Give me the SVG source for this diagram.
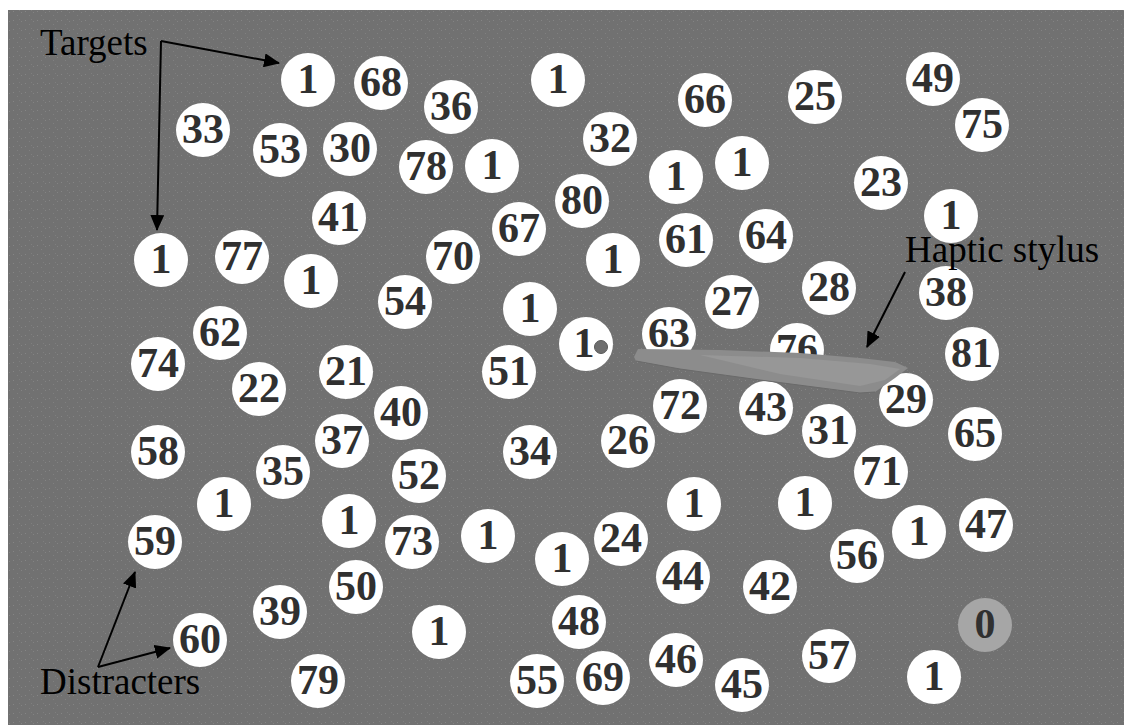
<svg xmlns="http://www.w3.org/2000/svg" width="1124" height="725" viewBox="0 0 1124 725">
<style>
.bg{fill:#717171}
.c{fill:#ffffff}
.g{fill:#a6a6a6}
.n{font-family:"Liberation Serif","Times New Roman",serif;font-weight:bold;font-size:42px;fill:#303030;text-anchor:middle}
.lbl{font-family:"Liberation Serif","Times New Roman",serif;font-size:37px;fill:#000000}
.arr{stroke:#000000;stroke-width:2;fill:none;marker-end:url(#ah)}
</style>
<defs>
<marker id="ah" markerUnits="userSpaceOnUse" markerWidth="16" markerHeight="14" refX="15" refY="7" orient="auto">
<path d="M0,0 L16,7 L0,14 Z" fill="#000000"/>
</marker>
<pattern id="noise" width="12" height="9" patternUnits="userSpaceOnUse">
<rect width="12" height="9" fill="#717171"/>
<rect x="1" y="2" width="1" height="1" fill="#858585"/>
<rect x="5" y="6" width="1" height="1" fill="#808080"/>
<rect x="9" y="3" width="1" height="1" fill="#838383"/>
<rect x="7" y="1" width="1" height="1" fill="#7e7e7e"/>
</pattern>
</defs>
<rect x="0" y="0" width="1124" height="725" fill="#ffffff"/>
<rect x="8" y="10" width="1116" height="715" fill="url(#noise)"/>

<g id="t1"><circle class="c" cx="308" cy="80" r="27"/><text class="n" x="308" y="93">1</text></g>
<g id="d68"><circle class="c" cx="381" cy="83" r="27"/><text class="n" x="381" y="96">68</text></g>
<g id="d36"><circle class="c" cx="451" cy="107" r="27"/><text class="n" x="451" y="120">36</text></g>
<g id="t2"><circle class="c" cx="558" cy="80" r="27"/><text class="n" x="558" y="93">1</text></g>
<g id="d66"><circle class="c" cx="705" cy="100" r="27"/><text class="n" x="705" y="113">66</text></g>
<g id="d25"><circle class="c" cx="815" cy="97" r="27"/><text class="n" x="815" y="110">25</text></g>
<g id="d49"><circle class="c" cx="933" cy="79" r="27"/><text class="n" x="933" y="92">49</text></g>
<g id="d75"><circle class="c" cx="982" cy="125" r="27"/><text class="n" x="982" y="138">75</text></g>
<g id="d33"><circle class="c" cx="203" cy="130" r="27"/><text class="n" x="203" y="143">33</text></g>
<g id="d53"><circle class="c" cx="280" cy="150" r="27"/><text class="n" x="280" y="163">53</text></g>
<g id="d30"><circle class="c" cx="350" cy="149" r="27"/><text class="n" x="350" y="162">30</text></g>
<g id="d78"><circle class="c" cx="426" cy="167" r="27"/><text class="n" x="426" y="180">78</text></g>
<g id="t3"><circle class="c" cx="492" cy="166" r="27"/><text class="n" x="492" y="179">1</text></g>
<g id="d32"><circle class="c" cx="610" cy="139" r="27"/><text class="n" x="610" y="152">32</text></g>
<g id="t4"><circle class="c" cx="676" cy="177" r="27"/><text class="n" x="676" y="190">1</text></g>
<g id="t5"><circle class="c" cx="742" cy="163" r="27"/><text class="n" x="742" y="176">1</text></g>
<g id="d23"><circle class="c" cx="881" cy="183" r="27"/><text class="n" x="881" y="196">23</text></g>
<g id="t6"><circle class="c" cx="951" cy="216" r="27"/><text class="n" x="951" y="229">1</text></g>
<g id="d41"><circle class="c" cx="339" cy="218" r="27"/><text class="n" x="339" y="231">41</text></g>
<g id="d80"><circle class="c" cx="582" cy="201" r="27"/><text class="n" x="582" y="214">80</text></g>
<g id="d67"><circle class="c" cx="519" cy="229" r="27"/><text class="n" x="519" y="242">67</text></g>
<g id="d61"><circle class="c" cx="686" cy="240" r="27"/><text class="n" x="686" y="253">61</text></g>
<g id="d64"><circle class="c" cx="766" cy="236" r="27"/><text class="n" x="766" y="249">64</text></g>
<g id="t7"><circle class="c" cx="161" cy="260" r="27"/><text class="n" x="161" y="273">1</text></g>
<g id="d77"><circle class="c" cx="242" cy="257" r="27"/><text class="n" x="242" y="270">77</text></g>
<g id="t8"><circle class="c" cx="311" cy="281" r="27"/><text class="n" x="311" y="294">1</text></g>
<g id="d70"><circle class="c" cx="453" cy="257" r="27"/><text class="n" x="453" y="270">70</text></g>
<g id="t9"><circle class="c" cx="613" cy="260" r="27"/><text class="n" x="613" y="273">1</text></g>
<g id="d54"><circle class="c" cx="405" cy="302" r="27"/><text class="n" x="405" y="315">54</text></g>
<g id="d27"><circle class="c" cx="732" cy="302" r="27"/><text class="n" x="732" y="315">27</text></g>
<g id="d28"><circle class="c" cx="829" cy="288" r="27"/><text class="n" x="829" y="301">28</text></g>
<g id="d38"><circle class="c" cx="946" cy="293" r="27"/><text class="n" x="946" y="306">38</text></g>
<g id="t10"><circle class="c" cx="530" cy="309" r="27"/><text class="n" x="530" y="322">1</text></g>
<g id="d62"><circle class="c" cx="220" cy="333" r="27"/><text class="n" x="220" y="346">62</text></g>
<g id="t11"><circle class="c" cx="586" cy="344" r="27"/><text class="n" x="584" y="357">1</text><circle cx="601" cy="347" r="6.5" fill="#6e6e6e" stroke="#5a5a5a" stroke-width="1"/></g>
<g id="d63"><circle class="c" cx="669" cy="334" r="27"/><text class="n" x="669" y="347">63</text></g>
<g id="d76"><circle class="c" cx="797" cy="350" r="27"/><text class="n" x="797" y="363">76</text></g>
<g id="d81"><circle class="c" cx="972" cy="354" r="27"/><text class="n" x="972" y="367">81</text></g>
<g id="d74"><circle class="c" cx="158" cy="364" r="27"/><text class="n" x="158" y="377">74</text></g>
<g id="d22"><circle class="c" cx="259" cy="389" r="27"/><text class="n" x="259" y="402">22</text></g>
<g id="d21"><circle class="c" cx="346" cy="372" r="27"/><text class="n" x="346" y="385">21</text></g>
<g id="d51"><circle class="c" cx="509" cy="372" r="27"/><text class="n" x="509" y="385">51</text></g>
<g id="d72"><circle class="c" cx="680" cy="406" r="27"/><text class="n" x="680" y="419">72</text></g>
<g id="d43"><circle class="c" cx="766" cy="408" r="27"/><text class="n" x="766" y="421">43</text></g>
<g id="d29"><circle class="c" cx="906" cy="400" r="27"/><text class="n" x="906" y="413">29</text></g>
<g id="d40"><circle class="c" cx="401" cy="413" r="27"/><text class="n" x="401" y="426">40</text></g>
<g id="d31"><circle class="c" cx="829" cy="431" r="27"/><text class="n" x="829" y="444">31</text></g>
<g id="d65"><circle class="c" cx="975" cy="434" r="27"/><text class="n" x="975" y="447">65</text></g>
<g id="d37"><circle class="c" cx="342" cy="441" r="27"/><text class="n" x="342" y="454">37</text></g>
<g id="d34"><circle class="c" cx="530" cy="452" r="27"/><text class="n" x="530" y="465">34</text></g>
<g id="d26"><circle class="c" cx="628" cy="441" r="27"/><text class="n" x="628" y="454">26</text></g>
<g id="d71"><circle class="c" cx="881" cy="472" r="27"/><text class="n" x="881" y="485">71</text></g>
<g id="d58"><circle class="c" cx="158" cy="452" r="27"/><text class="n" x="158" y="465">58</text></g>
<g id="d35"><circle class="c" cx="283" cy="472" r="27"/><text class="n" x="283" y="485">35</text></g>
<g id="d52"><circle class="c" cx="419" cy="476" r="27"/><text class="n" x="419" y="489">52</text></g>
<g id="t12"><circle class="c" cx="224" cy="504" r="27"/><text class="n" x="224" y="517">1</text></g>
<g id="t13"><circle class="c" cx="694" cy="504" r="27"/><text class="n" x="694" y="517">1</text></g>
<g id="t14"><circle class="c" cx="805" cy="503" r="27"/><text class="n" x="805" y="516">1</text></g>
<g id="t15"><circle class="c" cx="349" cy="521" r="27"/><text class="n" x="349" y="534">1</text></g>
<g id="d73"><circle class="c" cx="412" cy="542" r="27"/><text class="n" x="412" y="555">73</text></g>
<g id="t16"><circle class="c" cx="488" cy="536" r="27"/><text class="n" x="488" y="549">1</text></g>
<g id="t17"><circle class="c" cx="562" cy="559" r="27"/><text class="n" x="562" y="572">1</text></g>
<g id="d24"><circle class="c" cx="621" cy="539" r="27"/><text class="n" x="621" y="552">24</text></g>
<g id="t18"><circle class="c" cx="919" cy="532" r="27"/><text class="n" x="919" y="545">1</text></g>
<g id="d47"><circle class="c" cx="986" cy="525" r="27"/><text class="n" x="986" y="538">47</text></g>
<g id="d56"><circle class="c" cx="857" cy="556" r="27"/><text class="n" x="857" y="569">56</text></g>
<g id="d59"><circle class="c" cx="155" cy="542" r="27"/><text class="n" x="155" y="555">59</text></g>
<g id="d44"><circle class="c" cx="683" cy="577" r="27"/><text class="n" x="683" y="590">44</text></g>
<g id="d42"><circle class="c" cx="770" cy="587" r="27"/><text class="n" x="770" y="600">42</text></g>
<g id="d50"><circle class="c" cx="356" cy="587" r="27"/><text class="n" x="356" y="600">50</text></g>
<g id="d39"><circle class="c" cx="280" cy="612" r="27"/><text class="n" x="280" y="625">39</text></g>
<g id="d48"><circle class="c" cx="579" cy="622" r="27"/><text class="n" x="579" y="635">48</text></g>
<g id="t19"><circle class="c" cx="439" cy="632" r="27"/><text class="n" x="439" y="645">1</text></g>
<g id="start0"><circle class="g" cx="985" cy="625" r="27"/><text class="n" x="985" y="638">0</text></g>
<g id="d60"><circle class="c" cx="200" cy="640" r="27"/><text class="n" x="200" y="653">60</text></g>
<g id="d57"><circle class="c" cx="829" cy="656" r="27"/><text class="n" x="829" y="669">57</text></g>
<g id="d46"><circle class="c" cx="676" cy="660" r="27"/><text class="n" x="676" y="673">46</text></g>
<g id="d45"><circle class="c" cx="742" cy="685" r="27"/><text class="n" x="742" y="698">45</text></g>
<g id="d55"><circle class="c" cx="537" cy="681" r="27"/><text class="n" x="537" y="694">55</text></g>
<g id="d69"><circle class="c" cx="603" cy="678" r="27"/><text class="n" x="603" y="691">69</text></g>
<g id="d79"><circle class="c" cx="318" cy="681" r="27"/><text class="n" x="318" y="694">79</text></g>
<g id="t20"><circle class="c" cx="934" cy="677" r="27"/><text class="n" x="934" y="690">1</text></g>

<g id="stylus">
<polygon points="634,357 638,349 720,350 800,353 860,358 895,362 908,368 895,378 875,392 860,393 760,380 680,369 636,361" fill="#8c8c8c"/>
<polygon points="700,355 800,358 870,364 900,369 885,380 860,386 780,374" fill="#979797"/>
<polyline points="636,361 680,369 760,380 860,393 875,392" fill="none" stroke="#6a6a6a" stroke-width="1"/>
</g>

<g id="labels">
<text class="lbl" x="40" y="55">Targets</text>
<text class="lbl" x="40" y="694">Distracters</text>
<text class="lbl" x="905" y="262">Haptic stylus</text>
</g>

<g id="connectors">
<line class="arr" x1="161" y1="41" x2="279" y2="63"/>
<line class="arr" x1="161" y1="41" x2="157" y2="230"/>
<line class="arr" x1="98" y1="667" x2="135" y2="572"/>
<line class="arr" x1="98" y1="667" x2="170" y2="648"/>
<line class="arr" x1="905" y1="272" x2="867" y2="347"/>
</g>
</svg>
